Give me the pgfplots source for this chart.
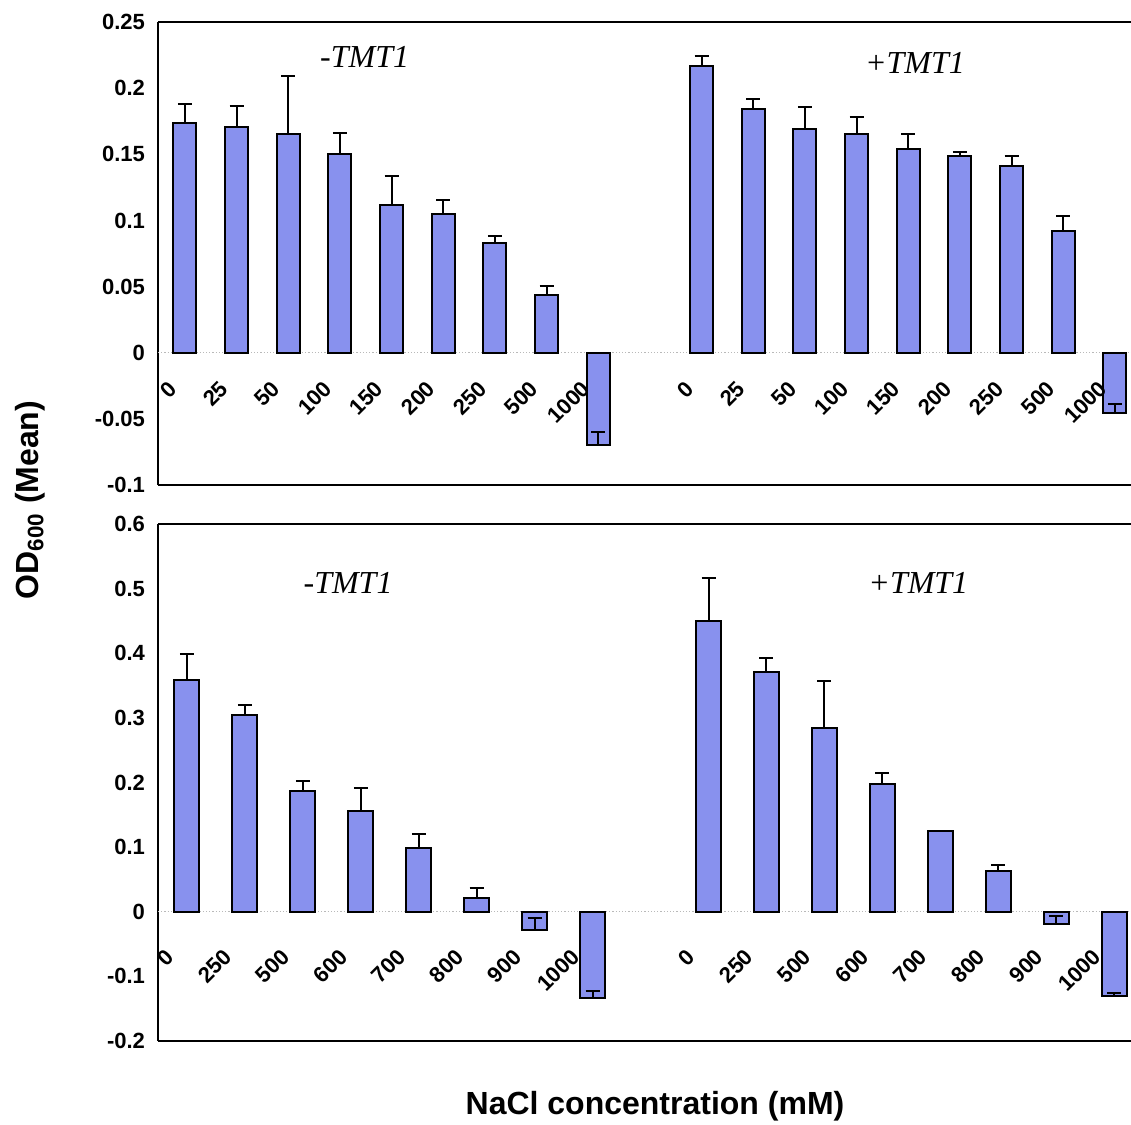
\documentclass[border=0pt]{standalone}
\usepackage{pgfplots}
\pgfplotsset{compat=1.18}
\usepackage{pgfplotstable}
\usepackage{fontspec}
\setmainfont{Liberation Sans}
\newfontfamily\timesfont{Liberation Serif}
\definecolor{barblue}{HTML}{8891EE}

% OD600 means and (plus) errors, 0.5 M series and 1 M series
\pgfplotstableread{
x y err lab
0 0.1739 0.0144 0
1 0.1703 0.0160 25
2 0.1650 0.0444 50
3 0.1503 0.0159 100
4 0.1117 0.0221 150
5 0.1046 0.0109 200
6 0.0827 0.0054 250
7 0.0434 0.0071 500
8 -0.0698 0.0102 1000
10 0.2165 0.0075 0
11 0.1840 0.0076 25
12 0.1690 0.0170 50
13 0.1657 0.0127 100
14 0.1540 0.0110 150
15 0.1490 0.0030 200
16 0.1410 0.0080 250
17 0.0920 0.0110 500
18 -0.0457 0.0067 1000
}\topdata

\pgfplotstableread{
x y err lab
0 0.358 0.041 0
1 0.305 0.015 250
2 0.187 0.015 500
3 0.156 0.035 600
4 0.098 0.023 700
5 0.022 0.015 800
6 -0.029 0.020 900
7 -0.133 0.011 1000
9 0.450 0.067 0
10 0.371 0.021 250
11 0.285 0.072 500
12 0.198 0.016 600
13 0.1245 0.000 700
14 0.0636 0.008 800
15 -0.019 0.012 900
16 -0.130 0.004 1000
}\botdata

\pgfplotsset{
  panel/.style={
    scale only axis,
    width=486.5pt,
    axis x line*=box,
    axis y line*=left,
    axis line style={line width=0.9pt},
    xtick=\empty,
    ytick style={draw=none},
    yticklabel style={font=\bfseries\fontsize{11}{13}\selectfont, xshift=-3pt},
    clip=false,
  },
  bars/.style={
    ybar, bar width=#1, fill=barblue, draw=black, line width=1pt,
    error bars/.cd, y dir=plus, y explicit,
    error bar style={line width=1pt, black},
    error mark options={rotate=90, mark size=3.5pt, line width=1pt, black},
  },
  catlabels/.style 2 args={
    draw=none, mark=none, nodes near coords, point meta=explicit symbolic,
    every node near coord/.style={xshift=#1, yshift=#2, rotate=45, anchor=east,
      inner sep=0pt, font=\bfseries\fontsize{11}{13}\selectfont},
  },
}

\begin{document}
\begin{tikzpicture}
\path[use as bounding box] (0,0) rectangle (565.5pt,-562.5pt);

\begin{axis}[panel,
  at={(79pt,-11pt)}, anchor=north west,
  height=231.5pt,
  xmin=-0.52, xmax=18.31,
  ymin=-0.1, ymax=0.25,
  ytick={-0.1,-0.05,0,0.05,0.1,0.15,0.2,0.25},
  yticklabels={-0.1,-0.05,0,0.05,0.1,0.15,0.2,0.25},
]
\draw[gray!55, densely dotted, line width=0.6pt] (axis cs:-0.52,0) -- (axis cs:18.31,0);
\addplot[bars=11.5pt] table[x=x, y=y, y error=err] {\topdata};
\addplot[catlabels={-6pt}{-16pt}] table[x=x, y expr=0, meta=lab] {\topdata};
\node[font=\timesfont\itshape\fontsize{16}{18}\selectfont] at (axis cs:3.48,0.2235) {-TMT1};
\node[font=\timesfont\itshape\fontsize{16}{18}\selectfont] at (axis cs:14.13,0.219) {+TMT1};
\end{axis}

\begin{axis}[panel,
  at={(79pt,-262pt)}, anchor=north west,
  height=258.5pt,
  xmin=-0.5, xmax=16.29,
  ymin=-0.2, ymax=0.6,
  ytick={-0.2,-0.1,0,0.1,0.2,0.3,0.4,0.5,0.6},
  yticklabels={-0.2,-0.1,0,0.1,0.2,0.3,0.4,0.5,0.6},
]
\draw[gray!55, densely dotted, line width=0.6pt] (axis cs:-0.5,0) -- (axis cs:16.29,0);
\addplot[bars=12.5pt] table[x=x, y=y, y error=err] {\botdata};
\addplot[catlabels={-8.5pt}{-20.5pt}] table[x=x, y expr=0, meta=lab] {\botdata};
\node[font=\timesfont\itshape\fontsize{16}{18}\selectfont] at (axis cs:2.78,0.509) {-TMT1};
\node[font=\timesfont\itshape\fontsize{16}{18}\selectfont] at (axis cs:12.62,0.509) {+TMT1};
\end{axis}

\node[rotate=90, font=\bfseries\fontsize{16}{19}\selectfont] at (15pt,-250pt) {OD\textsubscript{600} (Mean)};
\node[font=\bfseries\fontsize{16}{19}\selectfont] at (327.5pt,-553pt) {NaCl concentration (mM)};
\end{tikzpicture}
\end{document}
